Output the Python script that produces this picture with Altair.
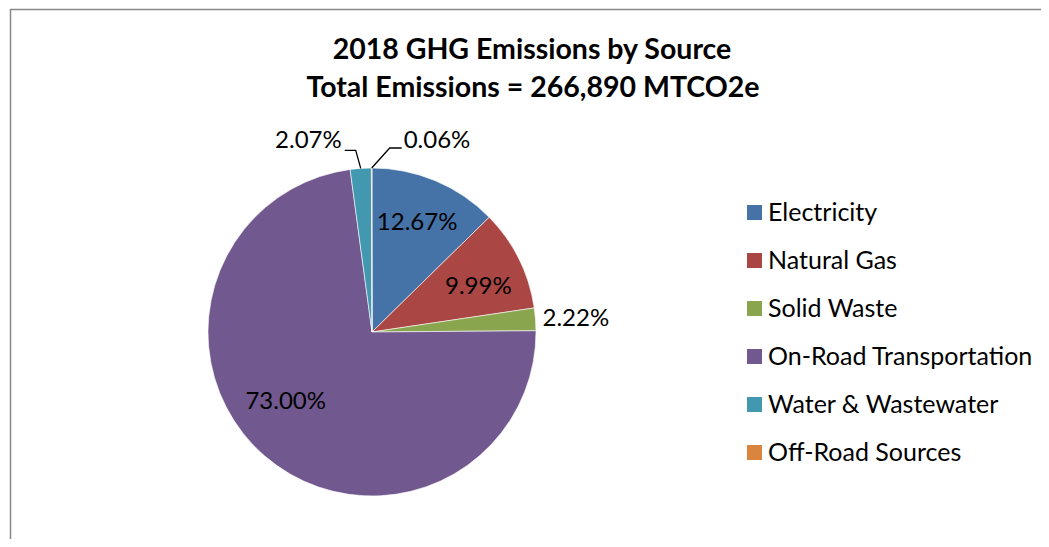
import altair as alt
import numpy as np
import pandas as pd

# ---------------- data ----------------
categories = ["Electricity", "Natural Gas", "Solid Waste",
              "On-Road Transportation", "Water & Wastewater", "Off-Road Sources"]
shares = [12.67, 9.99, 2.22, 73.00, 2.07, 0.06]
share_labels = ["12.67%", "9.99%", "2.22%", "73.00%", "2.07%", "0.06%"]
colors = ["#4572A7", "#AA4643", "#89A54E", "#71588F", "#4198AF", "#DB843D"]
title_lines = ["2018 GHG Emissions by Source", "Total Emissions = 266,890 MTCO2e"]

# ---------------- layout / style ----------------
W, H = 1033, 531          # whole canvas (view) size
CX, CY, R = 364, 324, 164  # pie centre and radius in view pixels
FONT = "Lato"
LABEL_SIZE = 24
LEGEND_SIZE = 25
TITLE_SIZE = 28.5

# label placement styles: inside (radius fraction + pixel nudge), outside, leader
INSIDE_R = 0.71
inside_nudge = {"Electricity": (0, -2), "Natural Gas": (2, 7),
                "On-Road Transportation": (-10, -18)}
outside_style = {"Solid Waste": (7, 0)}
# leader offsets (pixels from slice edge point): knee, end, text anchor, align
leader_style = {
    "Water & Wastewater": dict(knee=(-5, -18), end=(-16, -18), text=(-19, -27), align="right"),
    "Off-Road Sources": dict(knee=(18, -20), end=(30, -20), text=(32, -27), align="left"),
}

total = float(np.sum(shares))
cum = np.concatenate([[0.0], np.cumsum(shares)])
mid = (cum[:-1] + np.array(shares) / 2.0) / total * 2 * np.pi
ux, uy = np.sin(mid), np.cos(mid)  # unit vectors (pie units, y up)

def px(dx, dy):
    """pixel offset -> pie units (y up)"""
    return dx / R, -dy / R

label_rows, leader_rows = [], []
for i, cat in enumerate(categories):
    if cat in inside_nudge:
        nx, ny = px(*inside_nudge[cat])
        label_rows.append(dict(category=cat, label=share_labels[i], align="center",
                               lx=INSIDE_R * ux[i] + nx, ly=INSIDE_R * uy[i] + ny))
    elif cat in outside_style:
        nx, ny = px(*outside_style[cat])
        label_rows.append(dict(category=cat, label=share_labels[i], align="left",
                               lx=ux[i] + nx, ly=uy[i] + ny))
    elif cat in leader_style:
        st = leader_style[cat]
        ex, ey = ux[i], uy[i]
        pts = [(ex, ey)]
        for key in ("knee", "end"):
            ox, oy = px(*st[key])
            pts.append((ex + ox, ey + oy))
        for k, (a, b) in enumerate(pts):
            leader_rows.append(dict(category=cat, seq=k, lx=a, ly=b))
        ox, oy = px(*st["text"])
        label_rows.append(dict(category=cat, label=share_labels[i], align=st["align"],
                               lx=ex + ox, ly=ey + oy))

pie_df = pd.DataFrame({"category": categories, "share": shares,
                       "idx": list(range(len(categories)))})
lab_df = pd.DataFrame(label_rows)
lead_df = pd.DataFrame(leader_rows)

xscale = alt.Scale(domain=[-CX / R, (W - CX) / R], range=[0, W], nice=False, zero=False)
yscale = alt.Scale(domain=[-(H - CY) / R, CY / R], range=[H, 0], nice=False, zero=False)

pie = alt.Chart(pie_df).mark_arc(radius=R, stroke="white", strokeWidth=0.6).encode(
    theta=alt.Theta("share:Q", stack=True),
    order=alt.Order("idx:Q", sort="ascending"),
    color=alt.Color(
        "category:N",
        scale=alt.Scale(domain=categories, range=colors),
        sort=categories,
        legend=alt.Legend(
            title=None, orient="none", legendX=734, legendY=192,
            symbolType="square", symbolSize=225, symbolStrokeWidth=0,
            labelFont=FONT, labelFontSize=LEGEND_SIZE, labelColor="#000000",
            labelOffset=1, rowPadding=22, labelLimit=500, padding=0,
        ),
    ),
    x=alt.value(CX), y=alt.value(CY),
)

def label_layer(align):
    d = lab_df[lab_df["align"] == align]
    return alt.Chart(d).mark_text(
        align=align, baseline="middle", font=FONT, fontSize=LABEL_SIZE, color="#000000"
    ).encode(
        x=alt.X("lx:Q", scale=xscale, axis=None),
        y=alt.Y("ly:Q", scale=yscale, axis=None),
        text="label:N",
    )

leaders = alt.Chart(lead_df).mark_line(color="#000000", strokeWidth=1.3).encode(
    x=alt.X("lx:Q", scale=xscale, axis=None),
    y=alt.Y("ly:Q", scale=yscale, axis=None),
    detail="category:N",
    order="seq:Q",
)

title1 = alt.Chart(pd.DataFrame({"t": [title_lines[0]]})).mark_text(
    align="center", baseline="alphabetic", font=FONT, fontSize=TITLE_SIZE,
    fontWeight="bold", color="#000000"
).encode(x=alt.value(524), y=alt.value(51), text="t:N")
title2 = alt.Chart(pd.DataFrame({"t": [title_lines[1]]})).mark_text(
    align="center", baseline="alphabetic", font=FONT, fontSize=TITLE_SIZE,
    fontWeight="bold", color="#000000"
).encode(x=alt.value(525), y=alt.value(89), text="t:N")

border_top = alt.Chart(pd.DataFrame({"a": [0]})).mark_rule(
    color="#888888", strokeWidth=1.5
).encode(x=alt.value(2), x2=alt.value(W), y=alt.value(1.5))
border_left = alt.Chart(pd.DataFrame({"a": [0]})).mark_rule(
    color="#888888", strokeWidth=1.5
).encode(x=alt.value(2.5), y=alt.value(1), y2=alt.value(H))

chart = alt.layer(
    pie, leaders, label_layer("center"), label_layer("left"), label_layer("right"),
    title1, title2, border_top, border_left,
).properties(
    width=W, height=H, autosize=alt.AutoSizeParams(type="none"), padding=0,
    background="white",
).configure_view(stroke=None)

chart.save("out.html", embed_options={"renderer": "svg", "actions": False})
